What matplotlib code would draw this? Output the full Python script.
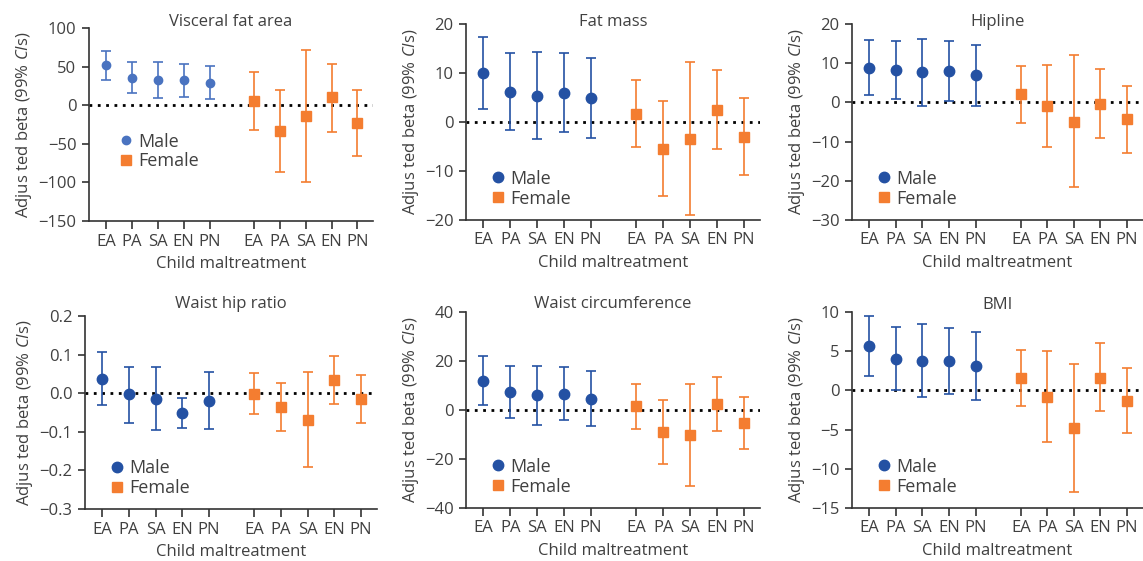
import numpy as np
import matplotlib
matplotlib.use('Agg')
import matplotlib.pyplot as plt
from matplotlib.lines import Line2D

plt.rcParams['font.family'] = ['Open Sans', 'DejaVu Sans']
plt.rcParams['mathtext.fontset'] = 'custom'
plt.rcParams['mathtext.rm'] = 'Open Sans'
plt.rcParams['mathtext.it'] = 'Open Sans:italic'

categories = ['EA', 'PA', 'SA', 'EN', 'PN']

titles = ['Visceral fat area', 'Fat mass', 'Hipline',
          'Waist hip ratio', 'Waist circumference', 'BMI']

vfa_male = [51.5, 35, 32, 32, 29]
vfa_male_lo = [32.5, 15.6, 9, 11, 8]
vfa_male_hi = [70, 56, 56, 53, 50.6]
vfa_female = [5, -33, -14, 10, -23]
vfa_female_lo = [-32, -86, -100, -35, -66]
vfa_female_hi = [43, 20, 71, 54, 20]

fm_male = [10, 6.2, 5.4, 5.9, 4.8]
fm_male_lo = [2.7, -1.6, -3.5, -2.1, -3.3]
fm_male_hi = [17.3, 14.1, 14.3, 14, 13.1]
fm_female = [1.6, -5.5, -3.4, 2.5, -3.1]
fm_female_lo = [-5.1, -15.2, -19, -5.5, -10.9]
fm_female_hi = [8.5, 4.2, 12.2, 10.6, 4.8]

hip_male = [8.9, 8.3, 7.7, 8.0, 6.9]
hip_male_lo = [1.8, 0.85, -0.8, 0.3, -0.9]
hip_male_hi = [16, 15.7, 16.2, 15.6, 14.7]
hip_female = [2.1, -1.0, -4.9, -0.3, -4.3]
hip_female_lo = [-5.3, -11.5, -21.7, -9.0, -12.8]
hip_female_hi = [9.4, 9.6, 12.1, 8.5, 4.2]

whr_male = [0.038, -0.003, -0.014, -0.052, -0.020]
whr_male_lo = [-0.031, -0.078, -0.095, -0.091, -0.094]
whr_male_hi = [0.108, 0.069, 0.069, -0.013, 0.056]
whr_female = [-0.003, -0.036, -0.069, 0.034, -0.014]
whr_female_lo = [-0.055, -0.097, -0.191, -0.027, -0.076]
whr_female_hi = [0.052, 0.026, 0.054, 0.097, 0.047]

wc_male = [12, 7.4, 6.0, 6.7, 4.6]
wc_male_lo = [2, -3.1, -6.1, -4.1, -6.4]
wc_male_hi = [22, 18, 18.1, 17.7, 16]
wc_female = [1.5, -9, -10.2, 2.6, -5.2]
wc_female_lo = [-7.6, -22, -31.1, -8.5, -15.8]
wc_female_hi = [10.5, 4.1, 10.6, 13.4, 5.2]

bmi_male = [5.6, 4.0, 3.7, 3.7, 3.1]
bmi_male_lo = [1.8, 0, -0.9, -0.5, -1.2]
bmi_male_hi = [9.5, 8.1, 8.5, 7.9, 7.4]
bmi_female = [1.6, -0.8, -4.8, 1.6, -1.3]
bmi_female_lo = [-2.0, -6.6, -13, -2.6, -5.4]
bmi_female_hi = [5.1, 5.0, 3.4, 6.0, 2.9]

yticks = [
    [-150, -100, -50, 0, 50, 100],
    [-20, -10, 0, 10, 20],
    [-30, -20, -10, 0, 10, 20],
    [-0.3, -0.2, -0.1, 0.0, 0.1, 0.2],
    [-40, -20, 0, 20, 40],
    [-15, -10, -5, 0, 5, 10],
]
ytick_fmt = ['{:.0f}', '{:.0f}', '{:.0f}', '{:.1f}', '{:.0f}', '{:.0f}']

panels = [
    (vfa_male, vfa_male_lo, vfa_male_hi, vfa_female, vfa_female_lo, vfa_female_hi),
    (fm_male, fm_male_lo, fm_male_hi, fm_female, fm_female_lo, fm_female_hi),
    (hip_male, hip_male_lo, hip_male_hi, hip_female, hip_female_lo, hip_female_hi),
    (whr_male, whr_male_lo, whr_male_hi, whr_female, whr_female_lo, whr_female_hi),
    (wc_male, wc_male_lo, wc_male_hi, wc_female, wc_female_lo, wc_female_hi),
    (bmi_male, bmi_male_lo, bmi_male_hi, bmi_female, bmi_female_lo, bmi_female_hi),
]

W, H = 1143, 561
# axes boxes in pixels: left, top, right, bottom
boxes = [
    (89, 28, 373, 221), (466, 24, 760, 220), (852, 24, 1143, 220),
    (85, 316, 377, 509), (466, 312, 760, 508), (852, 312, 1143, 508),
]
title_y = [1.03, 1.01, 1.01, 1.06, 1.04, 1.035]
legend_pos = [(0.06, 0.36), (0.04, 0.16), (0.04, 0.16),
              (0.04, 0.16), (0.04, 0.16), (0.04, 0.16)]

male_col = '#2451A3'
male_col_light = '#4A73C0'
female_col = '#F47D30'
text_col = '#404040'

x_male = np.arange(1, 6)
x_female = np.arange(1, 6) + 5.7

fig = plt.figure(figsize=(W / 100, H / 100), dpi=100)

for i, (m, mlo, mhi, f, flo, fhi) in enumerate(panels):
    l, t, r, b = boxes[i]
    ax = fig.add_axes([l / W, 1 - b / H, (r - l) / W, (b - t) / H])
    m, mlo, mhi = np.array(m), np.array(mlo), np.array(mhi)
    f, flo, fhi = np.array(f), np.array(flo), np.array(fhi)

    ax.axhline(0, color='black', linestyle=(0, (1, 2)), lw=2, zorder=1)

    mc = male_col_light if i == 0 else male_col
    ms = 6 if i == 0 else 7.5
    ax.errorbar(x_male, m, yerr=[m - mlo, mhi - m], fmt='o', color=mc,
                ms=ms, elinewidth=1.2, capsize=3.5, capthick=1.2, zorder=3)
    ax.errorbar(x_female, f, yerr=[f - flo, fhi - f], fmt='s', color=female_col,
                ms=7, elinewidth=1.2, capsize=3.5, capthick=1.2, zorder=3)

    ax.set_xlim(0.35, 11.3)
    ax.set_ylim(yticks[i][0], yticks[i][-1])
    ax.set_yticks(yticks[i], [ytick_fmt[i].format(v).replace('-', '\u2212') for v in yticks[i]])
    ax.set_xticks(np.concatenate([x_male, x_female]), categories + categories)

    for s in ['top', 'right']:
        ax.spines[s].set_visible(False)
    for s in ['left', 'bottom']:
        ax.spines[s].set_color('#333333')
        ax.spines[s].set_linewidth(1.2)
    ax.tick_params(axis='x', length=6, width=1.2, color='#333333',
                   labelsize=12, labelcolor=text_col, pad=3)
    ax.tick_params(axis='y', length=5, width=1.2, color='#333333',
                   labelsize=12, labelcolor=text_col, pad=4)

    ax.set_xlabel('Child maltreatment', fontsize=12, color=text_col, labelpad=5)
    ax.set_ylabel('Adjus ted beta (99% $\\mathit{CI}$s)', fontsize=12,
                  color=text_col, labelpad=3)
    ax.text(0.5, title_y[i], titles[i], transform=ax.transAxes, ha='center',
            va='center', fontsize=12, color=text_col)

    handles = [
        Line2D([], [], marker='o', color=mc, linestyle='None', ms=ms),
        Line2D([], [], marker='s', color=female_col, linestyle='None', ms=7),
    ]
    ax.legend(handles, ['Male', 'Female'], loc='center left',
              bbox_to_anchor=legend_pos[i], frameon=False, fontsize=13,
              handletextpad=0.1, labelspacing=0.1, handlelength=1.2,
              borderpad=0, labelcolor=text_col)

fig.savefig('out.png', dpi=100)
